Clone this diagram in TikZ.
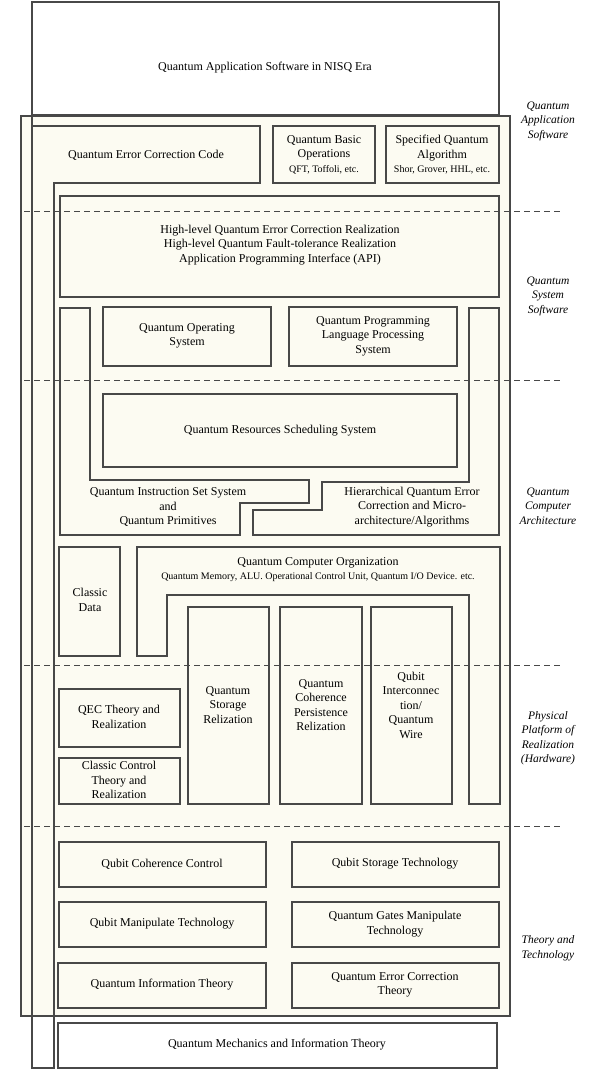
\documentclass[tikz,border=0pt]{standalone}
\usepackage{fontspec}
\setmainfont{Liberation Serif}
\definecolor{cream}{RGB}{252,251,242}
\definecolor{ln}{RGB}{72,72,72}
\begin{document}
\begin{tikzpicture}[x=1pt,y=-1pt,
  ol/.style={draw=ln,line width=1.1pt,line join=miter},
  bx/.style={ol,fill=cream},
  wb/.style={ol,fill=white},
  dl/.style={draw=ln,line width=1pt,dash pattern=on 6pt off 4pt},
  txt/.style={align=center,inner sep=0pt,font=\fontsize{12}{14.5}\selectfont},
  sm/.style={align=center,inner sep=0pt,font=\fontsize{10}{11}\selectfont},
  side/.style={align=center,inner sep=0pt,font=\itshape\fontsize{11.5}{14.5}\selectfont}]
\useasboundingbox (0,0) rectangle (600,1090);
\fill[white] (0,0) rectangle (600,1090);
% big background
\path[bx] (21,116) rectangle (510,1016);
% top and bottom boxes
\path[wb] (32,2) rectangle (499,115);
\path[wb] (58,1023) rectangle (497,1068);
% QECC L-shape
\draw[ol] (32,115) -- (32,1068) -- (54,1068) -- (54,183) -- (260,183) -- (260,126) -- (32,126);
% top row
\path[bx] (273,126) rectangle (375,183);
\path[bx] (386,126) rectangle (499,183);
% high-level
\path[bx] (60,196) rectangle (499,297);
% system software row
\path[bx] (103,307) rectangle (271,366);
\path[bx] (289,307) rectangle (457,366);
\path[bx] (103,394) rectangle (457,467);
% instruction set polygon
\path[bx] (60,308) -- (90,308) -- (90,480) -- (309,480) -- (309,503) -- (240,503) -- (240,535) -- (60,535) -- cycle;
% hierarchical polygon
\path[bx] (322,482) -- (469,482) -- (469,308) -- (499,308) -- (499,535) -- (253,535) -- (253,510) -- (322,510) -- cycle;
% computer organization
\path[bx] (59,547) rectangle (120,656);
\path[bx] (137,547) -- (500,547) -- (500,804) -- (469,804) -- (469,595) -- (167,595) -- (167,656) -- (137,656) -- cycle;
\path[bx] (188,607) rectangle (269,804);
\path[bx] (280,607) rectangle (362,804);
\path[bx] (371,607) rectangle (452,804);
\path[bx] (59,689) rectangle (180,747);
\path[bx] (59,758) rectangle (180,804);
% theory
\path[bx] (59,842) rectangle (266,887);
\path[bx] (59,902) rectangle (266,947);
\path[bx] (58,963) rectangle (266,1008);
\path[bx] (292,842) rectangle (499,887);
\path[bx] (292,902) rectangle (499,947);
\path[bx] (292,963) rectangle (499,1008);
% dashed separators
\draw[dl] (24,211) -- (562,211);
\draw[dl] (24,380) -- (562,380);
\draw[dl] (24,665) -- (562,665);
\draw[dl] (24,826) -- (562,826);
% texts
\node[txt] (tApp) at (265,68) {Quantum Application Software in NISQ Era};
\node[txt] (tQECC) at (146,155) {Quantum Error Correction Code};
\node[txt] (tBasic) at (324,148) {Quantum Basic\\Operations};
\node[sm] (tBasicS) at (324,170) {QFT, Toffoli, etc.};
\node[txt] (tSpec) at (442,148) {Specified Quantum\\Algorithm};
\node[sm] (tSpecS) at (442,170) {Shor, Grover, HHL, etc.};
\node[txt] (tHigh) at (280,245) {High-level Quantum Error Correction Realization\\High-level Quantum Fault-tolerance Realization\\Application Programming Interface (API)};
\node[txt] (tOS) at (187,336) {Quantum Operating\\System};
\node[txt] (tPL) at (373,336) {Quantum Programming\\Language Processing\\System};
\node[txt] (tRS) at (280,431) {Quantum Resources Scheduling System};
\node[txt] (tIS) at (168,507) {Quantum Instruction Set System\\and\\Quantum Primitives};
\node[txt] (tHQ) at (412,507) {Hierarchical Quantum Error\\Correction and Micro-\\architecture/Algorithms};
\node[txt] (tCD) at (90,600) {Classic\\Data};
\node[txt] (tCO) at (318,563) {Quantum Computer Organization};
\node[sm] (tCOS) at (318,577) {Quantum Memory, ALU. Operational Control Unit, Quantum I/O Device. etc.};
\node[txt] (tSt) at (228,705) {Quantum\\Storage\\Relization};
\node[txt] (tCoh) at (321,705) {Quantum\\Coherence\\Persistence\\Relization};
\node[txt] (tWire) at (411,705) {Qubit\\Interconnec\\tion/\\Quantum\\Wire};
\node[txt] (tQEC) at (119,717) {QEC Theory and\\Realization};
\node[txt] (tCC) at (119,780) {Classic Control\\Theory and\\Realization};
\node[txt] (tQCC) at (162,864) {Qubit Coherence Control};
\node[txt] (tQST) at (395,864) {Qubit Storage Technology};
\node[txt] (tQMT) at (162,924) {Qubit Manipulate Technology};
\node[txt] (tQGM) at (395,924) {Quantum Gates Manipulate\\Technology};
\node[txt] (tQIT) at (162,985) {Quantum Information Theory};
\node[txt] (tQECT) at (395,985) {Quantum Error Correction\\Theory};
\node[txt] (tQM) at (277,1045) {Quantum Mechanics and Information Theory};
% side labels
\node[side] (sApp) at (548,121) {Quantum\\Application\\Software};
\node[side] (sSys) at (548,296) {Quantum\\System\\Software};
\node[side] (sArch) at (548,506) {Quantum\\Computer\\Architecture};
\node[side] (sPhys) at (548,738) {Physical\\Platform of\\Realization\\(Hardware)};
\node[side] (sTheo) at (548,948) {Theory and\\Technology};
\end{tikzpicture}
\end{document}
